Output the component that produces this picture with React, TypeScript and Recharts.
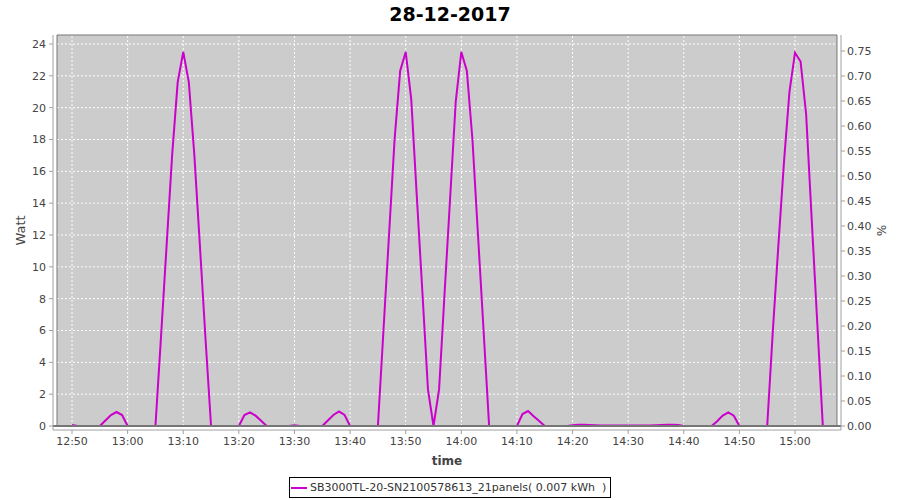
import React from 'react';
import {
  LineChart,
  Line,
  XAxis,
  YAxis,
  ReferenceArea,
  ReferenceLine,
  Legend,
  Label,
} from 'recharts';

// ---- data -------------------------------------------------------------
const chartTitle = '28-12-2017';
const seriesName = 'SB3000TL-20-SN2100578613_21panels( 0.007 kWh  )';
const firstSample = '12:50'; // one sample per minute
const watts: number[] = [
  // 12:50 - 12:59
  0.06, 0, 0, 0, 0, 0, 0.35, 0.69, 0.88, 0.69,
  // 13:00 - 13:09
  0, 0, 0, 0, 0, 0, 5.6, 11.3, 17.0, 21.6,
  // 13:10 - 13:19
  23.5, 21.6, 17.0, 11.3, 5.5, 0, 0, 0, 0, 0,
  // 13:20 - 13:29
  0, 0.69, 0.86, 0.65, 0.33, 0, 0, 0, 0, 0,
  // 13:30 - 13:39
  0.05, 0, 0, 0, 0, 0, 0.35, 0.69, 0.92, 0.7,
  // 13:40 - 13:49
  0, 0, 0, 0, 0, 0, 6.0, 12.0, 18.0, 22.3,
  // 13:50 - 13:59
  23.5, 20.5, 14.4, 8.4, 2.3, 0, 2.3, 8.4, 14.4, 20.4,
  // 14:00 - 14:09
  23.5, 22.3, 18.0, 12.0, 6.0, 0, 0, 0, 0, 0,
  // 14:10 - 14:19
  0, 0.75, 0.94, 0.62, 0.32, 0, 0, 0, 0, 0,
  // 14:20 - 14:29
  0.05, 0.08, 0.08, 0.07, 0.05, 0.03, 0.03, 0.03, 0.03, 0.03,
  // 14:30 - 14:39
  0.03, 0.03, 0.03, 0.03, 0.03, 0.05, 0.07, 0.08, 0.08, 0.06,
  // 14:40 - 14:49
  0, 0, 0, 0, 0, 0, 0.3, 0.65, 0.86, 0.65,
  // 14:50 - 14:59
  0, 0, 0, 0, 0, 0, 5.9, 11.3, 16.5, 21.0,
  // 15:00 - 15:05
  23.45, 22.9, 19.6, 13.0, 6.5, 0,
];
const xTickLabels = [
  '12:50', '13:00', '13:10', '13:20', '13:30', '13:40', '13:50',
  '14:00', '14:10', '14:20', '14:30', '14:40', '14:50', '15:00',
];
const wattTicks = [0, 2, 4, 6, 8, 10, 12, 14, 16, 18, 20, 22, 24];
const percentTicks = [
  0, 0.05, 0.1, 0.15, 0.2, 0.25, 0.3, 0.35, 0.4, 0.45, 0.5, 0.55, 0.6, 0.65,
  0.7, 0.75,
];

// ---- helpers ----------------------------------------------------------
const toMin = (s: string) => {
  const [h, m] = s.split(':').map(Number);
  return h * 60 + m;
};
const fmtMin = (v: number) => {
  const h = Math.floor(v / 60);
  const m = Math.round(v - h * 60);
  return `${h}:${m < 10 ? '0' + m : m}`;
};
const start = toMin(firstSample);
const data = watts.map((w, i) => ({ t: start + i, w }));
const xTicks = xTickLabels.map(toMin);

// axis ranges (plot frame + 4px axis offsets as in the original chart)
const X_DOMAIN: [number, number] = [766.58, 908.27];
const FRAME_X: [number, number] = [767.3, 907.55];
const W_DOMAIN: [number, number] = [-0.251, 24.565];
const P_DOMAIN: [number, number] = [-0.008, 0.782];

const FONT = '"DejaVu Sans", sans-serif';
const LINE_COLOR = '#cc00cc';
const AXIS_COLOR = '#a0a0a0';
const TICK_TEXT = '#444444';

const renderLegend = () => (
  <div
    style={{
      position: 'relative',
      width: 322,
      height: 21,
      boxSizing: 'border-box',
      border: '1px solid #000',
      background: '#fff',
      fontFamily: FONT,
      fontSize: 11,
      color: '#333',
      whiteSpace: 'pre',
    }}
  >
    <svg
      width={16}
      height={6}
      style={{ position: 'absolute', left: 1, top: 7 }}
    >
      <line x1={0} y1={3} x2={16} y2={3} stroke={LINE_COLOR} strokeWidth={2} />
    </svg>
    <span style={{ position: 'absolute', left: 20, top: 2, lineHeight: '15px' }}>
      {seriesName}
    </span>
  </div>
);

export default function App() {
  return (
    <div
      style={{
        position: 'absolute',
        left: 0,
        top: 0,
        width: 900,
        height: 500,
        background: '#fff',
        fontFamily: FONT,
      }}
    >
      <div
        style={{
          position: 'absolute',
          left: 0,
          top: 2,
          width: 900,
          textAlign: 'center',
          fontFamily: FONT,
          fontWeight: 'bold',
          fontSize: 19,
          lineHeight: '24px',
          color: '#000',
        }}
      >
        {chartTitle}
      </div>
      <LineChart
        width={900}
        height={500}
        data={data}
        margin={{ top: 35, right: 0, bottom: 0, left: 0 }}
      >
        <XAxis
          dataKey="t"
          type="number"
          domain={X_DOMAIN}
          allowDataOverflow
          ticks={xTicks}
          tickFormatter={fmtMin}
          height={70}
          tickSize={4}
          tickMargin={3}
          stroke={AXIS_COLOR}
          tick={{ fill: TICK_TEXT, fontSize: 11, fontFamily: FONT }}
          interval={0}
        >
          <Label
            content={(p: any) => {
              const vb = p.viewBox || {};
              return (
                <text
                  x={vb.x + vb.width / 2}
                  y={465}
                  textAnchor="middle"
                  fontFamily={FONT}
                  fontWeight="bold"
                  fontSize={12}
                  fill="#444"
                >
                  time
                </text>
              );
            }}
          />
        </XAxis>
        <YAxis
          yAxisId="left"
          type="number"
          domain={W_DOMAIN}
          allowDataOverflow
          ticks={wattTicks}
          width={53}
          tickSize={4}
          tickMargin={3}
          stroke={AXIS_COLOR}
          tick={{ fill: TICK_TEXT, fontSize: 11, fontFamily: FONT }}
          interval={0}
        >
          <Label
            content={() => (
              <text
                x={0}
                y={0}
                transform="translate(25,230.5) rotate(-90)"
                textAnchor="middle"
                fontFamily={FONT}
                fontSize={13}
                fill="#444"
              >
                Watt
              </text>
            )}
          />
        </YAxis>
        <YAxis
          yAxisId="right"
          orientation="right"
          type="number"
          domain={P_DOMAIN}
          allowDataOverflow
          ticks={percentTicks}
          tickFormatter={(v: number) => v.toFixed(2)}
          width={59}
          tickSize={4}
          tickMargin={2}
          stroke={AXIS_COLOR}
          tick={{ fill: TICK_TEXT, fontSize: 11, fontFamily: FONT }}
          interval={0}
        >
          <Label
            content={() => (
              <text
                x={0}
                y={0}
                transform="translate(877,230.5) rotate(90)"
                textAnchor="middle"
                fontFamily={FONT}
                fontSize={12}
                fill="#444"
              >
                %
              </text>
            )}
          />
        </YAxis>

        <ReferenceArea
          yAxisId="left"
          x1={FRAME_X[0]}
          x2={FRAME_X[1]}
          y1={0}
          y2={W_DOMAIN[1]}
          fill="#cccccc"
          fillOpacity={1}
          stroke="none"
          ifOverflow="visible"
          zIndex={-200}
        />
        {wattTicks
          .filter((v) => v > 0)
          .map((v) => (
            <ReferenceLine
              key={'h' + v}
              yAxisId="left"
              y={v}
              stroke="#ffffff"
              strokeDasharray="2 2"
              strokeWidth={1}
              zIndex={-150}
            />
          ))}
        {xTicks.map((v) => (
          <ReferenceLine
            key={'v' + v}
            yAxisId="left"
            x={v}
            stroke="#ffffff"
            strokeDasharray="2 2"
            strokeWidth={1}
            zIndex={-150}
          />
        ))}

        <Line
          yAxisId="left"
          dataKey="w"
          type="linear"
          stroke={LINE_COLOR}
          strokeWidth={2}
          dot={false}
          activeDot={false}
          isAnimationActive={false}
          name={seriesName}
        />

        <ReferenceLine
          yAxisId="left"
          y={0}
          stroke="#777777"
          strokeWidth={2}
          zIndex={450}
        />
        <ReferenceArea
          yAxisId="left"
          x1={FRAME_X[0]}
          x2={FRAME_X[1]}
          y1={0}
          y2={W_DOMAIN[1]}
          fill="none"
          stroke="#777777"
          strokeWidth={1}
          ifOverflow="visible"
          zIndex={460}
        />

        <Legend
          layout="horizontal"
          verticalAlign="middle"
          align="center"
          content={renderLegend}
          wrapperStyle={{ left: 289, top: 477, width: 322, height: 21 }}
        />
      </LineChart>
    </div>
  );
}
